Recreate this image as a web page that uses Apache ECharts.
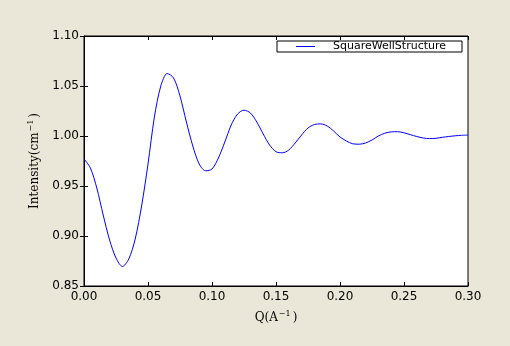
<!DOCTYPE html>
<html>
<head>
<meta charset="utf-8">
<script src="https://cdn.jsdelivr.net/npm/echarts@6/dist/echarts.min.js"></script>
<style>
  html, body { margin: 0; padding: 0; background: #eae7d9; }
  #chart { width: 510px; height: 346px; }
</style>
</head>
<body>
<div id="chart"></div>
<script>
var qValues = [0.000, 0.005, 0.010, 0.015, 0.020, 0.025, 0.030, 0.035, 0.040, 0.045,
               0.050, 0.055, 0.060, 0.065, 0.070, 0.075, 0.080, 0.085, 0.090, 0.095,
               0.100, 0.105, 0.110, 0.115, 0.120, 0.125, 0.130, 0.135, 0.140, 0.145,
               0.150, 0.155, 0.160, 0.165, 0.170, 0.175, 0.180, 0.185, 0.190, 0.195,
               0.200, 0.205, 0.210, 0.215, 0.220, 0.225, 0.230, 0.235, 0.240, 0.245,
               0.250, 0.255, 0.260, 0.265, 0.270, 0.275, 0.280, 0.285, 0.290, 0.295,
               0.300];
var intensity = [0.977, 0.968, 0.948, 0.921, 0.896, 0.878, 0.8695, 0.877, 0.897, 0.930,
                 0.972, 1.019, 1.050, 1.0625, 1.058, 1.040, 1.014, 0.990, 0.972, 0.9652,
                 0.967, 0.978, 0.994, 1.011, 1.022, 1.0258, 1.023, 1.014, 1.002, 0.991,
                 0.9843, 0.9832, 0.986, 0.993, 1.001, 1.008, 1.0115, 1.0121, 1.010, 1.005,
                 0.999, 0.995, 0.9922, 0.9918, 0.993, 0.996, 1.000, 1.0028, 1.0041, 1.0043,
                 1.0032, 1.0013, 0.9995, 0.998, 0.9974, 0.9977, 0.9987, 0.9995, 1.0002, 1.0007,
                 1.0009];
var seriesName = 'SquareWellStructure';

var points = [];
for (var i = 0; i < qValues.length; i++) {
    points.push([qValues[i], intensity[i]]);
}

var chart = echarts.init(document.getElementById('chart'));

var tickFont = { color: '#000', fontFamily: 'DejaVu Sans', fontSize: 12 };
var frame = { show: true, lineStyle: { color: '#000', width: 1 } };
var inTicks = { show: true, inside: true, length: 4, lineStyle: { color: '#000' } };

chart.setOption({
    backgroundColor: '#eae7d9',
    animation: false,
    grid: {
        left: 84, right: 42, top: 36, bottom: 60,
        show: true, backgroundColor: '#fff', borderColor: '#000', borderWidth: 1
    },
    legend: {
        data: [seriesName],
        left: 277, top: 41,
        width: 184,
        backgroundColor: '#fff',
        borderColor: '#000',
        borderWidth: 1,
        borderRadius: 0,
        padding: [0, 16, 0, 19],
        icon: 'rect',
        itemWidth: 19,
        itemHeight: 1,
        textStyle: {
            color: '#000', fontFamily: 'DejaVu Sans', fontSize: 11,
            lineHeight: 11, padding: [0, 0, 0, 13]
        }
    },
    xAxis: [{
        type: 'value', min: 0, max: 0.3, interval: 0.05,
        axisLine: frame, axisTick: inTicks, splitLine: { show: false },
        axisLabel: Object.assign({ margin: 5, formatter: function (v) { return v.toFixed(2); } }, tickFont),
        name: '{t|Q(A}{s|−1}{t|)}',
        nameLocation: 'middle',
        nameGap: 24,
        nameTextStyle: {
            rich: {
                t: { fontFamily: 'DejaVu Serif', fontSize: 12, color: '#000' },
                s: { fontFamily: 'DejaVu Serif', fontSize: 8, color: '#000', verticalAlign: 'top', padding: [0, 2, 7, 1] }
            }
        }
    }, {
        type: 'value', position: 'top', min: 0, max: 0.3, interval: 0.05,
        axisLine: frame, axisTick: inTicks, axisLabel: { show: false }, splitLine: { show: false }
    }],
    yAxis: [{
        type: 'value', min: 0.85, max: 1.10, interval: 0.05,
        axisLine: frame, axisTick: inTicks, splitLine: { show: false },
        axisLabel: Object.assign({ margin: 5, formatter: function (v) { return v.toFixed(2); } }, tickFont),
        name: '{t|Intensity(cm}{s|−1}{t|)}',
        nameLocation: 'middle',
        nameRotate: 90,
        nameGap: 42,
        nameTextStyle: {
            rich: {
                t: { fontFamily: 'DejaVu Serif', fontSize: 12, color: '#000' },
                s: { fontFamily: 'DejaVu Serif', fontSize: 8, color: '#000', verticalAlign: 'top', padding: [0, 2, 7, 1] }
            }
        }
    }, {
        type: 'value', position: 'right', min: 0.85, max: 1.10, interval: 0.05,
        axisLine: frame, axisTick: inTicks, axisLabel: { show: false }, splitLine: { show: false }
    }],
    series: [{
        name: seriesName,
        type: 'line',
        xAxisIndex: 0,
        yAxisIndex: 0,
        smooth: 0.3,
        symbol: 'none',
        lineStyle: { color: '#0000ff', width: 1 },
        itemStyle: { color: '#0000ff' },
        data: points
    }]
});
</script>
</body>
</html>
